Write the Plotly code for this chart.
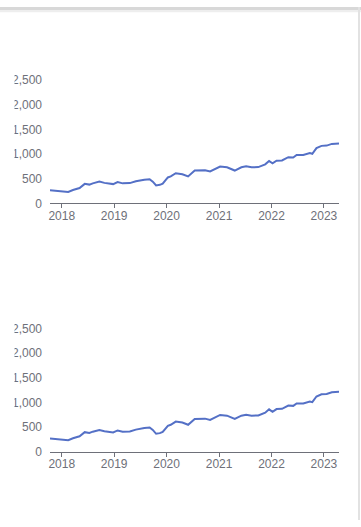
import plotly.graph_objects as go

# ---- data ----
dates = [
    "2017-10-11", "2017-11-15", "2017-12-15", "2018-01-01", "2018-02-15", "2018-03-20",
    "2018-05-05", "2018-06-10", "2018-07-12", "2018-08-05", "2018-09-20", "2018-10-25",
    "2018-12-25", "2019-01-25", "2019-03-01", "2019-04-20", "2019-06-01", "2019-07-30",
    "2019-09-05", "2019-09-27", "2019-10-20", "2019-11-15", "2019-12-05", "2020-01-10",
    "2020-01-30", "2020-03-05", "2020-04-20", "2020-05-30", "2020-07-15", "2020-09-25",
    "2020-10-30", "2021-01-08", "2021-02-25", "2021-04-20", "2021-06-05", "2021-07-08",
    "2021-08-15", "2021-10-01", "2021-11-18", "2021-12-15", "2022-01-08", "2022-02-05",
    "2022-03-15", "2022-04-28", "2022-06-01", "2022-06-25", "2022-08-10", "2022-09-25",
    "2022-10-12", "2022-11-10", "2022-12-15", "2023-01-20", "2023-02-25", "2023-04-16",
]
values = [
    264, 258, 255, 250, 231, 270,
    310, 395, 380, 405, 440, 415,
    390, 430, 405, 410, 447, 480,
    490, 440, 362, 375, 400, 525,
    545, 610, 590, 545, 665, 670,
    645, 745, 730, 665, 730, 750,
    730, 735, 790, 860, 810, 865,
    870, 935, 930, 980, 980, 1020,
    1005, 1120, 1165, 1170, 1205, 1215,
]
y_ticks = [0, 500, 1000, 1500, 2000, 2500]
x_ticks = ["2018-01-01", "2019-01-01", "2020-01-01", "2021-01-01", "2022-01-01", "2023-01-01"]
x_tick_text = ["2018", "2019", "2020", "2021", "2022", "2023"]

W, H = 361, 527
ML, MR = 50, 22
PW = W - ML - MR
LINE = "#5470c6"
AX = "#6e7079"
FONT = "Liberation Sans, Arial, sans-serif"

def py(px):
    return 1 - px / H

def pxx(px):
    return (px - ML) / PW

fig = go.Figure()
fig.add_trace(go.Scatter(x=dates, y=values, mode="lines", line=dict(color=LINE, width=2),
                         xaxis="x", yaxis="y", showlegend=False))
fig.add_trace(go.Scatter(x=dates, y=values, mode="lines", line=dict(color=LINE, width=2),
                         xaxis="x2", yaxis="y2", showlegend=False))

xcommon = dict(type="date", range=[dates[0], dates[-1]], showgrid=False, zeroline=False,
               showline=True, linecolor=AX, linewidth=1, ticks="outside", ticklen=4,
               tickcolor=AX, tickvals=x_ticks, ticktext=x_tick_text, ticklabelstandoff=-3,
               tickfont=dict(size=12, color=AX, family=FONT))
ycommon = dict(range=[0, 2500], showgrid=False, zeroline=False, showline=False,
               tickvals=y_ticks, tickformat=",", ticks="",
               tickfont=dict(size=12, color=AX, family=FONT), ticklabelstandoff=7)

fig.update_layout(
    width=W, height=H,
    margin=dict(l=ML, r=MR, t=0, b=0),
    paper_bgcolor="white", plot_bgcolor="white",
    font=dict(family=FONT, color=AX),
    xaxis=dict(domain=[0, 1], anchor="y", **xcommon),
    yaxis=dict(domain=[py(201.7), py(75)], anchor="x", **ycommon),
    xaxis2=dict(domain=[0, 1], anchor="y2", **xcommon),
    yaxis2=dict(domain=[py(456.7), py(330.5)], anchor="x2", **ycommon),
    shapes=[
        # clip of the y labels at the left edge
        dict(type="rect", xref="paper", yref="paper", x0=pxx(0), x1=pxx(14.5), y0=0, y1=1,
             fillcolor="white", line=dict(width=0), layer="above"),
        # top bar
        dict(type="rect", xref="paper", yref="paper", x0=pxx(0), x1=pxx(W), y0=py(3), y1=1,
             fillcolor="#d8d8d8", line=dict(width=0), layer="above"),
        dict(type="rect", xref="paper", yref="paper", x0=pxx(0), x1=pxx(W), y0=py(5.5), y1=py(3),
             fillcolor="#eeeeee", line=dict(width=0), layer="above"),
        # right border
        dict(type="rect", xref="paper", yref="paper", x0=pxx(358), x1=pxx(360), y0=0, y1=1,
             fillcolor="#e2e2e2", line=dict(width=0), layer="above"),
    ],
)

fig.write_html("out.html", config={"displayModeBar": False},
               post_script="document.body.style.margin='0';")
